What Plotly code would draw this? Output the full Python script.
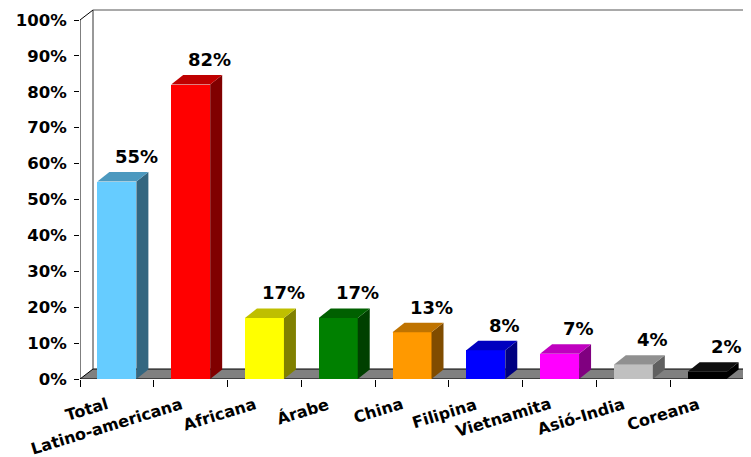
import plotly.graph_objects as go

categories = ["Total", "Latino-americana", "Africana", "Árabe", "China",
              "Filipina", "Vietnamita", "Asió-India", "Coreana"]
values = [55, 82, 17, 17, 13, 8, 7, 4, 2]
front_colors = ["#66CCFF", "#FF0000", "#FFFF00", "#008000", "#FF9900",
                "#0000FF", "#FF00FF", "#C0C0C0", "#000000"]
top_colors = ["#4C99BF", "#BF0000", "#BFBF00", "#006000", "#BF7300",
              "#0000BF", "#BF00BF", "#909090", "#101010"]
side_colors = ["#336680", "#800000", "#808000", "#004000", "#804C00",
               "#000080", "#800080", "#606060", "#000000"]
y_ticks = list(range(0, 101, 10))
y_tick_text = [f"{t}%" for t in y_ticks]

# page body has an 8px margin, so the figure is sized to fit the window
W, H = 743, 449
ML, MR, MT, MB = 72, 0, 0, 78
n = len(categories)
plot_w = W - ML - MR
plot_h = H - MT - MB
px_x = (744 - 80) / n           # pixels per category
px_y = 359 / 100.0               # pixels per percent
xmin = -0.5
xmax = xmin + plot_w / px_x
ymax = plot_h / px_y

# depth offsets (data units)
Dw = 13 / px_x
DYw = 10 / px_y
Db = 12 / px_x
DYb = 9.5 / px_y
bw = 39 / px_x

font_fam = "DejaVu Sans"
fig = go.Figure()

# front faces
fig.add_trace(go.Bar(x=list(range(n)), y=values, width=bw, base=0,
                     marker=dict(color=front_colors, line=dict(width=0)),
                     hoverinfo="skip"))
# side and top faces
for i, v in enumerate(values):
    xl, xr = i - bw / 2, i + bw / 2
    fig.add_trace(go.Scatter(x=[xr, xr + Db, xr + Db, xr, xr],
                             y=[0, DYb, v + DYb, v, 0], mode="lines",
                             fill="toself", fillcolor=side_colors[i],
                             line=dict(width=0), hoverinfo="skip"))
    fig.add_trace(go.Scatter(x=[xl, xl + Db, xr + Db, xr, xl],
                             y=[v, v + DYb, v + DYb, v, v], mode="lines",
                             fill="toself", fillcolor=top_colors[i],
                             line=dict(width=0), hoverinfo="skip"))

shapes = []
# floor
x0f, x1f = -0.5, n - 0.5
shapes.append(dict(type="path", xref="x", yref="y", layer="below",
                   path=f"M {x0f},0 L {x1f},0 L {x1f + Dw},{DYw} L {x0f + Dw},{DYw} Z",
                   fillcolor="#808080", line=dict(color="black", width=1)))
# walls
shapes.append(dict(type="line", xref="x", yref="y", layer="below",
                   x0=x0f + Dw, y0=DYw, x1=x0f + Dw, y1=100 + DYw,
                   line=dict(color="#333333", width=1)))
shapes.append(dict(type="line", xref="x", yref="y", layer="below",
                   x0=x0f + Dw, y0=100 + DYw, x1=x1f + Dw, y1=100 + DYw,
                   line=dict(color="#555555", width=1)))
shapes.append(dict(type="line", xref="x", yref="y",
                   x0=x0f, y0=100, x1=x0f + Dw, y1=100 + DYw,
                   line=dict(color="black", width=1)))
shapes.append(dict(type="line", xref="x", yref="y",
                   x0=x0f, y0=0, x1=x0f, y1=100,
                   line=dict(color="black", width=1)))

annotations = []
for i, v in enumerate(values):
    annotations.append(dict(x=i + 0.26, y=v, xref="x", yref="y", yshift=25,
                            text=f"{v}%", showarrow=False,
                            xanchor="center", yanchor="middle",
                            font=dict(family=font_fam, size=18, color="black",
                                      weight="bold")))
for i, c in enumerate(categories):
    annotations.append(dict(x=i - 0.07, y=-14 / plot_h, xref="x", yref="paper",
                            text=c, showarrow=False, textangle=-17,
                            xanchor="right", yanchor="top", borderpad=0,
                            font=dict(family=font_fam, size=16, color="black",
                                      weight="bold")))

fig.update_layout(
    width=W, height=H,
    margin=dict(l=ML, r=MR, t=MT, b=MB, pad=0),
    paper_bgcolor="white", plot_bgcolor="white",
    showlegend=False,
    shapes=shapes, annotations=annotations,
    xaxis=dict(range=[xmin, xmax], tickvals=[k - 0.5 for k in range(n + 1)],
               showticklabels=False, ticks="outside", ticklen=7,
               tickcolor="black", showgrid=False, zeroline=False,
               showline=False),
    yaxis=dict(range=[0, ymax], tickvals=y_ticks, ticktext=y_tick_text,
               ticks="outside", ticklen=5, tickcolor="black",
               ticklabelstandoff=4,
               tickfont=dict(family=font_fam, size=16.5, color="black",
                             weight="bold"),
               showgrid=False, zeroline=False, showline=False),
    bargap=0,
)

fig.write_html("out.html")
